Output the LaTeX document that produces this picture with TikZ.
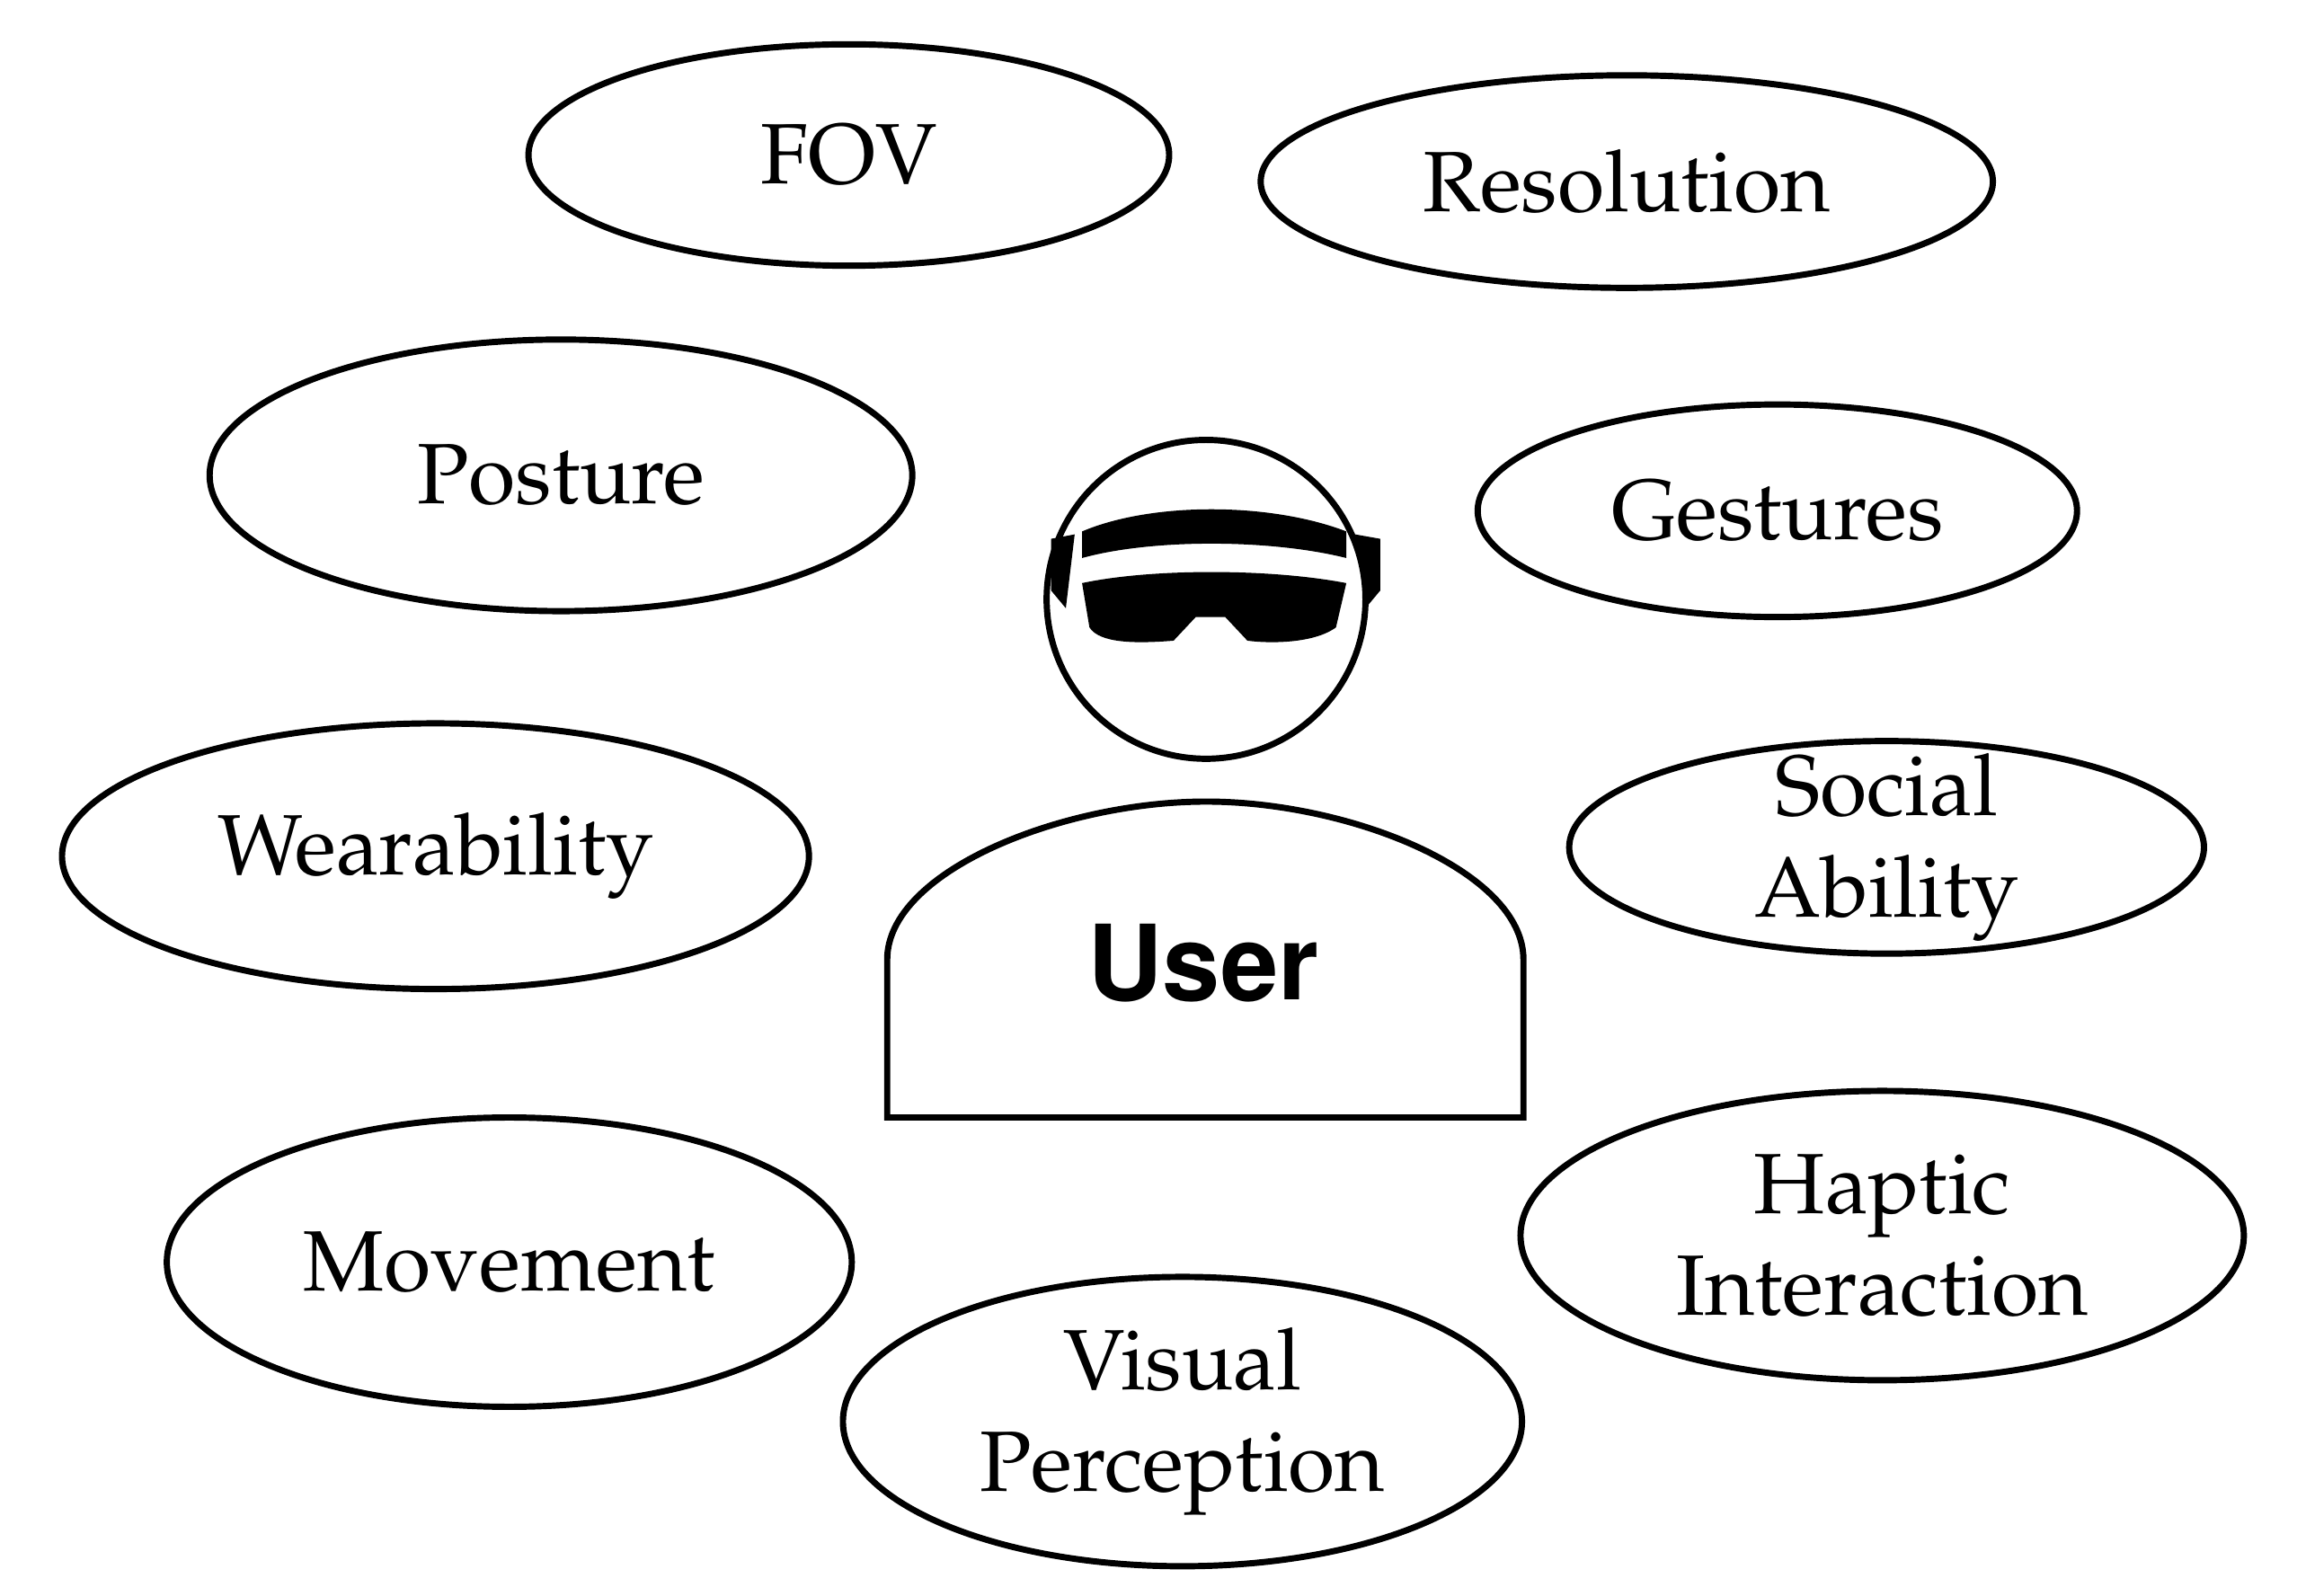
\documentclass[tikz,border=0pt]{standalone}
\usepackage[T1]{fontenc}
\usepackage{mathpazo}
\begin{document}
\begin{tikzpicture}[x=0.01cm,y=-0.01cm,
  ln/.style={line width=1.2pt}]
\useasboundingbox (0,0) rectangle (1556,1081);
\newcommand\bub[5]{\draw[ln] (#1,#2) ellipse [x radius=#3,y radius=#4]; \node[align=center,font=\fontsize{16.5}{19.5}\selectfont] (#5) at (#1,#2)}
\bub{575}{105}{217}{75}{fov} {FOV};
\bub{1102}{123}{248}{72}{res} {Resolution};
\bub{380}{322}{238}{92}{pos} {Posture};
\bub{1204}{346}{203}{72}{ges} {Gestures};
\bub{295}{580}{253}{90}{wea} {Wearability};
\bub{1278}{574}{215}{72}{soc} {Social\\Ability};
\bub{345}{855}{232}{98}{mov} {Movement};
\bub{1275}{837}{245}{98}{hap} {Haptic\\Interaction};
\bub{801}{963}{230}{98}{vis} {Visual\\Perception};
% head
\draw[ln] (817,406) circle [radius=108];
% goggles
\fill (733,360) .. controls (780,340) and (860,340) .. (912,360) -- (912,378) .. controls (860,365) and (780,365) .. (733,378) -- cycle;
\fill (733,395) .. controls (780,385) and (860,385) .. (912,395) -- (905,425) .. controls (890,436) and (860,436) .. (845,434) -- (830,418) -- (810,418) -- (795,434) .. controls (770,436) and (745,436) .. (738,425) -- cycle;
\fill (712,365) -- (728,362) -- (722,412) -- (712,400) -- cycle;
\fill (935,365) -- (918,362) -- (925,412) -- (935,400) -- cycle;
% body
\draw[ln] (601,757) -- (601,650) .. controls (601,590) and (720,543) .. (817,543) .. controls (914,543) and (1032,590) .. (1032,650) -- (1032,757) -- cycle;
\node[font=\fontsize{20}{24}\usefont{T1}{phv}{b}{n}] (user) at (815,653) {User};
\end{tikzpicture}
\end{document}
